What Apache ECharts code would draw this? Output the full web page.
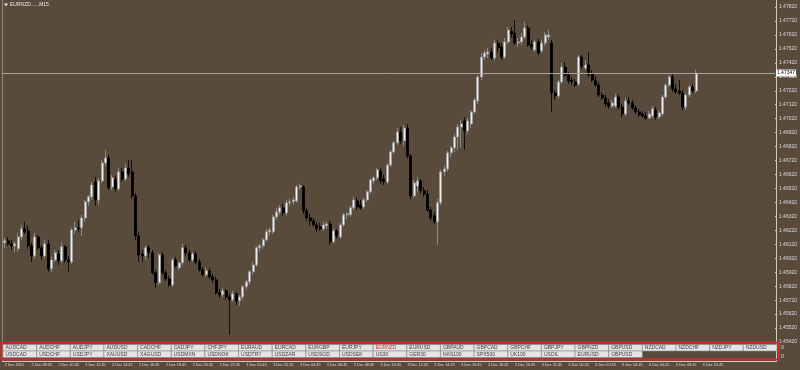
<!DOCTYPE html>
<html><head><meta charset="utf-8">
<script src="https://cdn.jsdelivr.net/npm/echarts@6/dist/echarts.min.js"></script>
<style>html,body{margin:0;padding:0;background:#584b3c;}#c{width:800px;height:370px;}</style>
</head><body><div id="c"></div>
<script>
// ---- data (EURNZD M15) ----
const opens = [1.46131,1.46145,1.46123,1.46109,1.46088,1.46173,1.46231,1.46216,1.46109,1.46037,
1.46173,1.46095,1.46037,1.46123,1.45944,1.46008,1.46051,1.46001,1.46102,1.46008,
1.45994,1.46223,1.46238,1.46238,1.46309,1.46424,1.46460,1.46567,1.46438,1.46574,
1.46703,1.46739,1.46531,1.46588,1.46517,1.46639,1.46588,1.46667,1.46639,1.46467,
1.46180,1.46051,1.46037,1.46095,1.46059,1.45916,1.45844,1.46044,1.45916,1.45872,
1.45829,1.46008,1.45951,1.45987,1.46095,1.46059,1.46008,1.46051,1.45994,1.45937,
1.45901,1.45930,1.45887,1.45865,1.45772,1.45758,1.45787,1.45743,1.45722,1.45765,
1.45715,1.45743,1.45815,1.45851,1.45923,1.45972,1.46095,1.46109,1.46152,1.46209,
1.46209,1.46316,1.46352,1.46381,1.46345,1.46417,1.46424,1.46431,1.46531,1.46531,
1.46359,1.46309,1.46288,1.46259,1.46245,1.46231,1.46252,1.46266,1.46138,1.46216,
1.46173,1.46259,1.46331,1.46331,1.46381,1.46431,1.46402,1.46388,1.46438,1.46496,
1.46574,1.46596,1.46646,1.46588,1.46567,1.46688,1.46782,1.46847,1.46925,1.46861,
1.46953,1.46753,1.46467,1.46538,1.46574,1.46503,1.46481,1.46366,1.46324,1.46281,
1.46417,1.46639,1.46660,1.46775,1.46811,1.46889,1.46960,1.47004,1.46932,1.46982,
1.47068,1.47147,1.47319,1.47462,1.47483,1.47498,1.47455,1.47562,1.47534,1.47462,
1.47570,1.47648,1.47634,1.47562,1.47570,1.47605,1.47670,1.47555,1.47512,1.47570,
1.47505,1.47562,1.47605,1.47562,1.47204,1.47183,1.47283,1.47390,1.47333,1.47297,
1.47283,1.47269,1.47462,1.47383,1.47405,1.47340,1.47297,1.47261,1.47190,1.47168,
1.47133,1.47111,1.47111,1.47175,1.47104,1.47054,1.47147,1.47133,1.47097,1.47068,
1.47054,1.47039,1.47025,1.47039,1.47082,1.47032,1.47054,1.47175,1.47261,1.47319,
1.47233,1.47218,1.47204,1.47104,1.47190,1.47247,1.47218];
const highs = [1.46166,1.46173,1.46152,1.46138,1.46202,1.46259,1.46281,1.46252,1.46131,1.46202,
1.46187,1.46116,1.46152,1.46152,1.46030,1.46080,1.46080,1.46131,1.46116,1.46037,
1.46238,1.46281,1.46295,1.46331,1.46438,1.46474,1.46567,1.46603,1.46596,1.46724,
1.46796,1.46760,1.46617,1.46610,1.46667,1.46667,1.46695,1.46724,1.46724,1.46488,
1.46209,1.46080,1.46109,1.46116,1.46080,1.45937,1.46059,1.46066,1.45937,1.45894,
1.46023,1.46030,1.45994,1.46123,1.46116,1.46080,1.46066,1.46073,1.46016,1.45958,
1.45951,1.45951,1.45908,1.45887,1.45801,1.45808,1.45801,1.45765,1.45787,1.45779,
1.45758,1.45829,1.45865,1.45937,1.45994,1.46109,1.46123,1.46166,1.46231,1.46238,
1.46331,1.46381,1.46402,1.46409,1.46438,1.46445,1.46460,1.46545,1.46553,1.46545,
1.46381,1.46338,1.46309,1.46281,1.46274,1.46281,1.46281,1.46288,1.46238,1.46231,
1.46274,1.46345,1.46352,1.46395,1.46460,1.46452,1.46438,1.46452,1.46510,1.46596,
1.46610,1.46667,1.46667,1.46617,1.46703,1.46796,1.46861,1.46953,1.46960,1.46975,
1.46982,1.46767,1.46581,1.46603,1.46588,1.46531,1.46510,1.46388,1.46352,1.46445,
1.46653,1.46681,1.46789,1.46825,1.46911,1.46982,1.47011,1.47032,1.47025,1.47082,
1.47168,1.47333,1.47491,1.47512,1.47527,1.47527,1.47584,1.47584,1.47562,1.47598,
1.47677,1.47677,1.47727,1.47598,1.47634,1.47713,1.47691,1.47584,1.47584,1.47591,
1.47584,1.47641,1.47655,1.47584,1.47226,1.47297,1.47419,1.47426,1.47354,1.47319,
1.47304,1.47476,1.47476,1.47440,1.47498,1.47369,1.47326,1.47283,1.47211,1.47190,
1.47161,1.47154,1.47197,1.47197,1.47126,1.47168,1.47175,1.47154,1.47118,1.47090,
1.47075,1.47068,1.47075,1.47111,1.47104,1.47075,1.47190,1.47276,1.47333,1.47340,
1.47269,1.47297,1.47226,1.47204,1.47261,1.47269,1.47369];
const lows = [1.46095,1.46109,1.46080,1.46066,1.46066,1.46152,1.46194,1.46088,1.45994,1.46016,
1.46080,1.46008,1.46023,1.45923,1.45923,1.45994,1.45972,1.45987,1.45987,1.45923,
1.45979,1.46194,1.46209,1.46180,1.46281,1.46395,1.46438,1.46395,1.46402,1.46560,
1.46681,1.46510,1.46510,1.46496,1.46503,1.46567,1.46574,1.46603,1.46445,1.46152,
1.45994,1.45994,1.46008,1.46023,1.45901,1.45808,1.45829,1.45901,1.45858,1.45815,
1.45815,1.45951,1.45937,1.45972,1.46037,1.45994,1.45994,1.45979,1.45923,1.45887,
1.45887,1.45872,1.45844,1.45758,1.45736,1.45743,1.45722,1.45471,1.45708,1.45686,
1.45679,1.45722,1.45794,1.45829,1.45901,1.45958,1.46066,1.46088,1.46138,1.46180,
1.46194,1.46295,1.46331,1.46324,1.46324,1.46395,1.46402,1.46417,1.46510,1.46338,
1.46288,1.46252,1.46245,1.46209,1.46216,1.46216,1.46231,1.46116,1.46123,1.46159,
1.46159,1.46245,1.46302,1.46316,1.46366,1.46366,1.46366,1.46374,1.46424,1.46481,
1.46553,1.46581,1.46553,1.46545,1.46553,1.46674,1.46767,1.46832,1.46839,1.46825,
1.46732,1.46445,1.46452,1.46496,1.46481,1.46460,1.46352,1.46288,1.46266,1.46116,
1.46402,1.46610,1.46639,1.46746,1.46782,1.46796,1.46811,1.46796,1.46911,1.46953,
1.47054,1.47126,1.47297,1.47440,1.47455,1.47440,1.47440,1.47498,1.47440,1.47448,
1.47555,1.47598,1.47548,1.47534,1.47548,1.47591,1.47534,1.47512,1.47498,1.47476,
1.47491,1.47541,1.47584,1.47068,1.47154,1.47168,1.47269,1.47319,1.47269,1.47261,
1.47247,1.47254,1.47376,1.47369,1.47319,1.47283,1.47247,1.47175,1.47154,1.47104,
1.47090,1.47097,1.47097,1.47082,1.47032,1.47039,1.47118,1.47082,1.47054,1.47032,
1.47025,1.47011,1.47018,1.47025,1.47011,1.47018,1.47039,1.47161,1.47247,1.47211,
1.47197,1.47190,1.47082,1.47082,1.47175,1.47204,1.47204];
const closes = [1.46145,1.46123,1.46109,1.46123,1.46173,1.46231,1.46209,1.46109,1.46037,1.46173,
1.46095,1.46037,1.46123,1.45944,1.46008,1.46059,1.46001,1.46102,1.46008,1.45994,
1.46223,1.46238,1.46231,1.46309,1.46424,1.46460,1.46545,1.46438,1.46574,1.46703,
1.46739,1.46524,1.46596,1.46517,1.46639,1.46588,1.46667,1.46624,1.46467,1.46180,
1.46044,1.46037,1.46095,1.46059,1.45916,1.45844,1.46044,1.45916,1.45872,1.45829,
1.46008,1.45965,1.45987,1.46095,1.46059,1.46008,1.46051,1.45994,1.45937,1.45901,
1.45930,1.45887,1.45865,1.45772,1.45758,1.45787,1.45743,1.45722,1.45765,1.45715,
1.45743,1.45815,1.45851,1.45923,1.45972,1.46095,1.46109,1.46152,1.46209,1.46223,
1.46316,1.46352,1.46381,1.46345,1.46417,1.46424,1.46438,1.46531,1.46538,1.46359,
1.46309,1.46288,1.46259,1.46231,1.46231,1.46259,1.46266,1.46138,1.46216,1.46180,
1.46259,1.46331,1.46338,1.46381,1.46438,1.46388,1.46381,1.46438,1.46496,1.46581,
1.46596,1.46653,1.46574,1.46567,1.46688,1.46782,1.46847,1.46925,1.46861,1.46953,
1.46753,1.46467,1.46560,1.46574,1.46503,1.46481,1.46366,1.46309,1.46281,1.46417,
1.46639,1.46660,1.46775,1.46811,1.46889,1.46960,1.46982,1.46932,1.47004,1.47068,
1.47154,1.47319,1.47462,1.47491,1.47498,1.47455,1.47562,1.47527,1.47462,1.47570,
1.47655,1.47627,1.47562,1.47570,1.47605,1.47670,1.47548,1.47534,1.47570,1.47491,
1.47562,1.47620,1.47620,1.47204,1.47183,1.47283,1.47390,1.47333,1.47290,1.47283,
1.47261,1.47462,1.47397,1.47405,1.47333,1.47297,1.47261,1.47190,1.47168,1.47126,
1.47111,1.47133,1.47175,1.47104,1.47054,1.47147,1.47133,1.47097,1.47068,1.47047,
1.47039,1.47025,1.47054,1.47090,1.47032,1.47061,1.47175,1.47261,1.47319,1.47233,
1.47211,1.47204,1.47104,1.47190,1.47247,1.47218,1.47347];

const tickLabels = ['2 Dec 2021','2 Dec 08:45','2 Dec 10:45','2 Dec 12:45','2 Dec 14:45','2 Dec 16:45',
'2 Dec 18:45','2 Dec 20:45','2 Dec 22:45','3 Dec 00:45','3 Dec 02:45','3 Dec 04:45','3 Dec 06:45',
'3 Dec 08:45','3 Dec 10:45','3 Dec 12:45','3 Dec 14:45','3 Dec 16:45','3 Dec 18:45','3 Dec 20:45',
'3 Dec 22:45','6 Dec 00:45','6 Dec 02:45','6 Dec 04:45','6 Dec 06:45','6 Dec 08:45','6 Dec 10:45'];
const barsPerLabel = 8;
const shiftSlots = 23; // empty chart-shift area on the right

const row1Buttons = ['AUDCAD','AUDCHF','AUDJPY','AUDUSD','CADCHF','CADJPY','CHFJPY','EURAUD','EURCAD','EURGBP',
'EURJPY','EURNZD','EURUSD','GBPAUD','GBPCAD','GBPCHF','GBPJPY','GBPNZD','GBPUSD','NZDCAD','NZDCHF','NZDJPY','NZDUSD'];
const row2Buttons = ['USDCAD','USDCHF','USDJPY','XAUUSD','XAGUSD','USDMXN','USDNOK','USDTRY','USDZAR','USDSGD',
'USDSEK','US30','GER30','NAS100','SPX500','UK100','USOIL','EURUSD','GBPUSD'];
const activeSymbol = 'EURNZD';
const chartTitle = 'EURNZD.....,M15';

// ---- build ----
const total = opens.length + shiftSlots;
const categories = [];
for (let i = 0; i < total; i++) categories.push(String(i));
const ohlc = opens.map((o, i) => [o, closes[i], lows[i], highs[i]]);
const lastClose = closes[closes.length - 1];

const FONT = 'Liberation Sans';
const BG = '#584b3c';
const elements = [];
// frame lines
elements.push({type:'line', shape:{x1:2.5,y1:0,x2:2.5,y2:362}, style:{stroke:'#8f887e',lineWidth:1}, silent:true});
elements.push({type:'line', shape:{x1:776.5,y1:0,x2:776.5,y2:362}, style:{stroke:'#cfcac2',lineWidth:1}, silent:true});
elements.push({type:'line', shape:{x1:2,y1:361.5,x2:777,y2:361.5}, style:{stroke:'#cfcac2',lineWidth:1}, silent:true});
// title
elements.push({type:'polygon', shape:{points:[[4,3.5],[8,3.5],[6,6.5]]}, style:{fill:'#e8e8e8'}, silent:true});
elements.push({type:'text', x:10, y:5, style:{text:chartTitle, fill:'#e6e6e6', font:'5px '+FONT, verticalAlign:'middle'}, silent:true});
// sub-window zero labels
elements.push({type:'text', x:781, y:348, style:{text:'0', fill:'#e0e0e0', font:'5px '+FONT, verticalAlign:'middle'}, silent:true});
elements.push({type:'text', x:781, y:356.5, style:{text:'0', fill:'#e0e0e0', font:'5px '+FONT, verticalAlign:'middle'}, silent:true});
// buttons
const bx0 = 3, bw = 33.65, bh = 6.5, by1 = 344.5, by2 = 351;
function addRow(list, y) {
  list.forEach((name, k) => {
    const x = bx0 + k * bw;
    elements.push({type:'rect', shape:{x:x, y:y, width:bw, height:bh}, style:{fill:'#e4e4e4', stroke:'#8a8a8a', lineWidth:0.6}, silent:true});
    elements.push({type:'text', x:x + 2.5, y:y + bh/2 + 0.3, style:{text:name, fill: name === activeSymbol && y === by1 ? '#e02a2a' : '#3a3a4a', font:'5px '+FONT, verticalAlign:'middle'}, silent:true});
  });
}
addRow(row1Buttons, by1);
addRow(row2Buttons, by2);
elements.push({type:'rect', shape:{x:1.5, y:342.5, width:777.5, height:17}, style:{fill:null, stroke:'#d42a2f', lineWidth:2}, silent:true, z:100});

const chart = echarts.init(document.getElementById('c'), null, {renderer:'canvas'});
chart.setOption({
  animation:false,
  backgroundColor:BG,
  grid:{left:3, right:24, top:7, height:335},
  xAxis:{
    type:'category', data:categories, boundaryGap:true,
    axisLine:{show:false}, axisTick:{show:false}, splitLine:{show:false},
    axisLabel:{interval:barsPerLabel-1, margin:20.5, align:'left', color:'#dcdcdc', fontSize:3.8, fontFamily:FONT,
      formatter:(v, idx) => (idx % barsPerLabel === 0 && tickLabels[idx / barsPerLabel]) ? tickLabels[idx / barsPerLabel] : ''}
  },
  yAxis:{
    type:'value', position:'right', scale:true, min:1.4542, max:1.4782, interval:0.001,
    axisLine:{show:false}, splitLine:{show:false},
    axisTick:{show:true, length:2, lineStyle:{color:'#cfcac2', width:1}},
    axisLabel:{margin:4, color:'#dcdcdc', fontSize:5, fontFamily:FONT, formatter:v => v.toFixed(5)}
  },
  series:[{
    type:'candlestick', data:ohlc, barWidth:2.5,
    itemStyle:{color:'#efefef', color0:'#000000', borderColor:'#9a9a9a', borderColor0:'#000000', borderWidth:0.8},
    markLine:{
      silent:true, symbol:['none','none'], animation:false, precision:5,
      lineStyle:{color:'#a9a39a', width:1, type:'solid'},
      label:{show:true, position:'end', distance:1, formatter:p => Number(p.value).toFixed(5), backgroundColor:'#ffffff', color:'#000000', fontSize:5, fontFamily:FONT, padding:[1,1]},
      data:[{yAxis:lastClose}]
    }
  }],
  graphic:{elements:elements}
});
</script></body></html>
